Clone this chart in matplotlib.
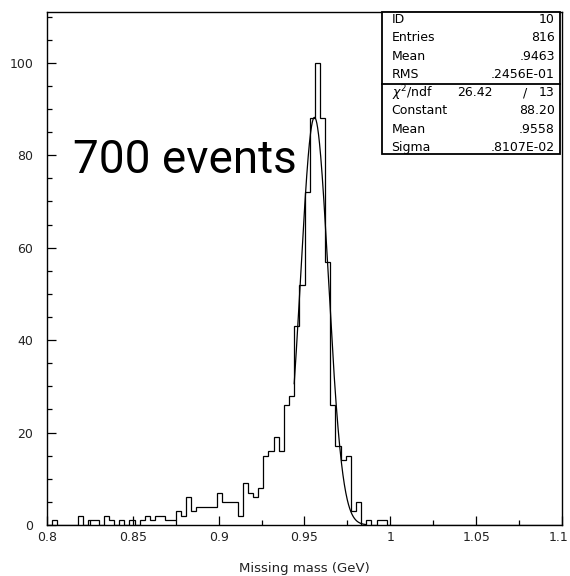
import numpy as np
import matplotlib.pyplot as plt
import matplotlib.transforms as mtransforms
from matplotlib.ticker import MultipleLocator, FuncFormatter
from matplotlib.patches import Rectangle

# histogram: 100 bins between 0.8 and 1.1 GeV
edges = np.linspace(0.8, 1.1, 101)
counts = [
    0, 1, 0, 0, 0, 0, 2, 0, 1, 1,
    0, 2, 1, 0, 1, 0, 1, 0, 1, 2,
    1, 2, 2, 1, 1, 3, 2, 6, 3, 4,
    4, 4, 4, 7, 5, 5, 5, 2, 9, 7,
    6, 8, 15, 16, 19, 16, 26, 28, 43, 52,
    72, 88, 100, 88, 57, 26, 17, 14, 15, 3,
    5, 0, 1, 0, 1, 1, 0, 0, 0, 0,
    0, 0, 0, 0, 0, 0, 0, 0, 0, 0,
    0, 0, 0, 0, 0, 0, 0, 0, 0, 0,
    0, 0, 0, 0, 0, 0, 0, 0, 0, 0,
]

# gaussian fit result
fit_const = 88.20
fit_mean = 0.9558
fit_sigma = 0.8107e-2
fit_range = (0.944, 0.986)

stat_rows = [
    ("ID", "10"),
    ("Entries", "816"),
    ("Mean", ".9463"),
    ("RMS", ".2456E-01"),
    ("Constant", "88.20"),
    ("Mean", ".9558"),
    ("Sigma", ".8107E-02"),
]
chi2_text = ("26.42", "13")

xmin, xmax = 0.8, 1.1

plt.rcParams['font.family'] = 'DejaVu Sans'
plt.rcParams['mathtext.fontset'] = 'dejavusans'

fig = plt.figure(figsize=(5.7, 5.76), dpi=100)
ax = fig.add_axes([47/570, 51/576, 515/570, 513/576])

ax.stairs(counts, edges, color='black', lw=0.9)

xf = np.linspace(fit_range[0], fit_range[1], 300)
yf = fit_const * np.exp(-0.5 * ((xf - fit_mean) / fit_sigma) ** 2)
ax.plot(xf, yf, color='black', lw=0.9)

ax.set_xlim(xmin, xmax)
ax.set_ylim(0, 111)

ax.xaxis.set_major_locator(MultipleLocator(0.05))
ax.xaxis.set_minor_locator(MultipleLocator(0.025))
ax.yaxis.set_major_locator(MultipleLocator(20))
ax.yaxis.set_minor_locator(MultipleLocator(5))
# the label at the right edge is drawn separately so it stays on the canvas
ax.xaxis.set_major_formatter(
    FuncFormatter(lambda v, p: '' if abs(v - xmax) < 1e-9 else f'{v:g}'))
ax.yaxis.set_major_formatter(FuncFormatter(lambda v, p: f'{v:g}'))

ax.tick_params(which='both', direction='in', top=False, right=False,
               width=0.9, labelsize=9, labelcolor='#222222')
ax.tick_params(which='major', length=6.5)
ax.tick_params(which='minor', length=3.3)
ax.tick_params(axis='x', pad=4)
ax.tick_params(axis='y', pad=10)
for s in ax.spines.values():
    s.set_linewidth(1.0)

edge_tr = (mtransforms.blended_transform_factory(ax.transData, ax.transAxes) +
           mtransforms.ScaledTranslation(-3/100, -4/72, fig.dpi_scale_trans))
ax.text(xmax, 0, f'{xmax:g}', transform=edge_tr, ha='center', va='top',
        fontsize=9, color='#222222')

ax.set_xlabel("Missing mass (GeV)", fontsize=9.5, labelpad=13, color='#222222')

ax.text(0.0505, 0.686, "700 events", transform=ax.transAxes,
        fontsize=33, family='Roboto', va='baseline', ha='left')

# statistics box
bx0, bx1, by0, by1 = 0.65, 0.996, 0.723, 1.0
ax.add_patch(Rectangle((bx0, by0), bx1 - bx0, by1 - by0, transform=ax.transAxes,
                       facecolor='white', edgecolor='black', lw=1.3, zorder=5,
                       clip_on=False))
ax.plot([bx0, bx1], [0.859, 0.859], transform=ax.transAxes, color='black',
        lw=1.3, zorder=6, clip_on=False)

row_y = [(525 - (19.5 + 18.3 * k)) / 513 for k in range(8)]
tx_l, tx_r = 0.669, 0.986
kw = dict(transform=ax.transAxes, fontsize=9, va='center', zorder=7)
for k, (name, val) in enumerate(stat_rows[:4]):
    ax.text(tx_l, row_y[k], name, ha='left', **kw)
    ax.text(tx_r, row_y[k], val, ha='right', **kw)
ax.text(tx_l, row_y[4], r'$\chi^2$/ndf', ha='left', **kw)
ax.text(0.865, row_y[4], chi2_text[0], ha='right', **kw)
ax.text(0.928, row_y[4], "/", ha='center', **kw)
ax.text(tx_r, row_y[4], chi2_text[1], ha='right', **kw)
for k, (name, val) in enumerate(stat_rows[4:]):
    ax.text(tx_l, row_y[k + 5], name, ha='left', **kw)
    ax.text(tx_r, row_y[k + 5], val, ha='right', **kw)

plt.savefig("out.png", dpi=100)
